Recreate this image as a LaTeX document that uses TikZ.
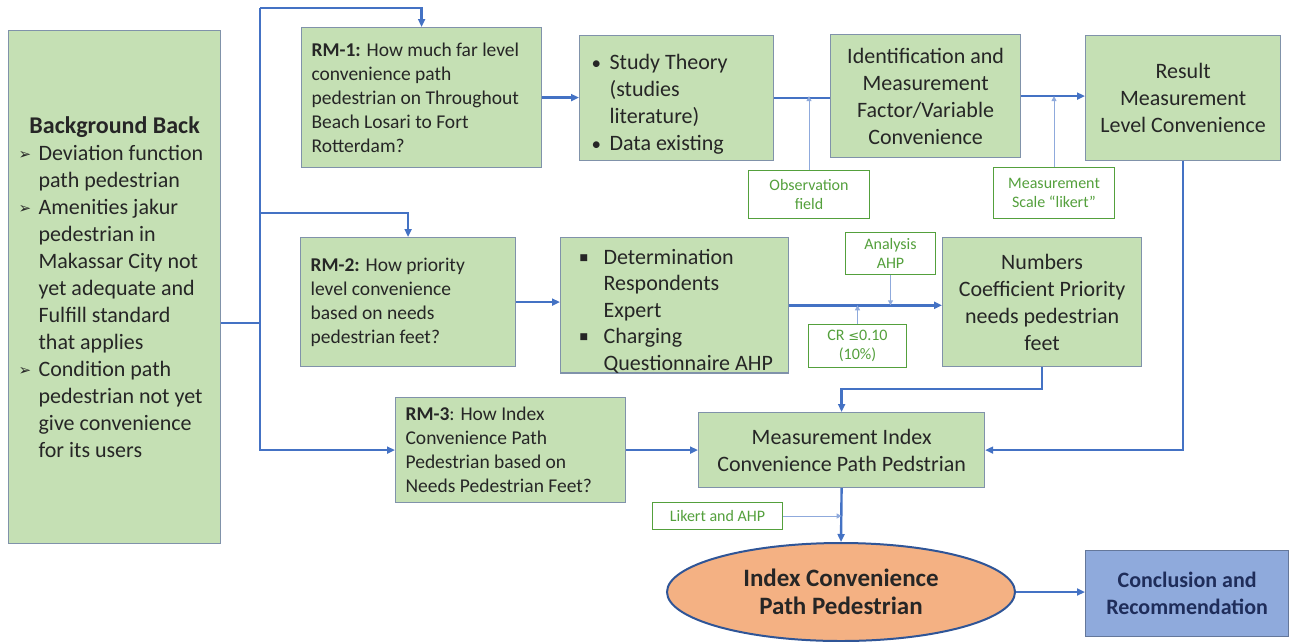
\documentclass[tikz,border=0pt]{standalone}
\usepackage{fontspec}
\setmainfont{Carlito}
\newfontfamily\symfont{DejaVu Sans}
\usetikzlibrary{arrows.meta,shapes.geometric}
\definecolor{boxgreen}{RGB}{197,224,180}
\definecolor{boxline}{RGB}{128,146,170}
\definecolor{flowblue}{RGB}{68,114,196}
\definecolor{lightblue}{RGB}{143,170,220}
\definecolor{notegreen}{RGB}{84,160,60}
\definecolor{ellfill}{RGB}{244,177,131}
\definecolor{ellline}{RGB}{47,85,151}
\definecolor{conclfill}{RGB}{143,170,220}
\definecolor{navy}{RGB}{31,45,90}
\newcommand{\bul}[3]{\par\hangindent=#1\hangafter=1\noindent\makebox[#1][l]{#2}#3\par}
\newcommand{\arrowmark}{\symfont\fontsize{15}{27}\selectfont\raisebox{1pt}{➢}}
\newcommand{\squaremark}{\hspace{9pt}\symfont\fontsize{9}{27}\selectfont\raisebox{4pt}{■}}
\newcommand{\dotmark}{\hspace{1pt}\fontsize{19}{27}\selectfont •}
\begin{document}
\begin{tikzpicture}[x=1pt,y=-1pt,
    box/.style={draw=boxline,line width=1.2pt,fill=boxgreen,text=black!85,anchor=north west,inner ysep=1pt,font=\fontsize{22}{27}\selectfont},
    rmbox/.style={box,align=flush left,inner xsep=10pt,font=\fontsize{19.5}{24}\selectfont},
    note/.style={draw=notegreen,line width=1pt,fill=white,text=notegreen,anchor=north west,align=flush center,inner sep=1pt,font=\fontsize{16}{19.5}\selectfont},
    flow/.style={draw=flowblue,line width=2.4pt,-{Triangle[length=8pt,width=7pt]}},
    feed/.style={draw=lightblue,line width=1pt,-{Triangle[length=5pt,width=5pt]}}]
  \useasboundingbox (0,0) rectangle (1290,641);
  \node[box,align=flush left,inner xsep=10pt,text width=192,minimum width=212,minimum height=513] (bg) at (8,30)
    {{\centering\fontsize{24}{27}\selectfont\bfseries Background Back\par}
     \bul{20pt}{\arrowmark}{Deviation function\newline path pedestrian}
     \bul{20pt}{\arrowmark}{Amenities jakur\newline pedestrian in\newline Makassar City not\newline yet adequate and\newline Fulfill standard\newline that applies}
     \bul{20pt}{\arrowmark}{Condition path\newline pedestrian not yet\newline give convenience\newline for its users}};
  \node[rmbox,text width=220,minimum width=240,minimum height=140] (rm1) at (301,27)
    {\textbf{RM-1:} How much far level\\convenience path\\pedestrian on Throughout\\Beach Losari to Fort\\Rotterdam?};
  \node[box,align=flush left,inner xsep=11pt,text width=172,minimum width=194,minimum height=125] (study) at (579,35)
    {\bul{19pt}{\dotmark}{Study Theory\newline (studies\newline literature)}
     \bul{19pt}{\dotmark}{Data existing}};
  \node[box,align=flush center,text width=180,minimum width=190,minimum height=123] (ident) at (830,34)
    {Identification and\\Measurement\\Factor/Variable\\Convenience};
  \node[box,align=flush center,text width=185,minimum width=195,minimum height=125] (result) at (1085,35)
    {Result\\Measurement\\Level Convenience};
  \node[note,text width=119,minimum height=48] (obs) at (748,170) {Observation\\field};
  \node[note,text width=119,minimum height=51] (scale) at (993,167) {Measurement\\Scale “likert”};
  \node[rmbox,text width=195,minimum width=215,minimum height=129] (rm2) at (300,237)
    {\textbf{RM-2:} How priority\\level convenience\\based on needs\\pedestrian feet?};
  \node[box,align=flush left,inner xsep=10pt,inner ysep=0pt,text width=208,minimum width=228,minimum height=131,
        font=\fontsize{22}{26.5}\selectfont] (det) at (560,237)
    {\bul{33pt}{\squaremark}{Determination\newline Respondents\newline Expert}
     \bul{33pt}{\squaremark}{Charging\newline Questionnaire AHP}};
  \node[box,align=flush center,text width=189,minimum width=199,minimum height=129] (num) at (942,237)
    {Numbers\\Coefficient Priority\\needs pedestrian\\feet};
  \node[note,text width=88,minimum height=42] (ahp) at (845,232) {Analysis\\AHP};
  \node[note,text width=96,minimum height=43] (cr) at (808,324) {CR {\symfont\fontsize{13}{19}\selectfont ≤}0.10\\(10\%)};
  \node[rmbox,text width=210,minimum width=230,minimum height=105] (rm3) at (395,397)
    {\textbf{RM-3}: How Index\\Convenience Path\\Pedestrian based on\\Needs Pedestrian Feet?};
  \node[box,align=flush center,text width=276,minimum width=286,minimum height=75] (mi) at (698,412)
    {Measurement Index\\Convenience Path Pedstrian};
  \node[note,text width=128,minimum height=27,font=\fontsize{16}{19}\selectfont] (likert) at (652,502) {Likert and AHP};
  \node[ellipse,draw=ellline,line width=2pt,fill=ellfill,inner sep=0pt,minimum width=348,minimum height=98,align=flush center,
        text=black!85,font=\fontsize{25}{28}\selectfont\bfseries] (ell) at (841,592) {Index Convenience\\Path Pedestrian};
  \node[draw=lightblue!70!black,line width=1.2pt,fill=conclfill,anchor=north west,minimum width=203,minimum height=86,align=flush center,
        text=navy,font=\fontsize{22}{27}\selectfont\bfseries] (concl) at (1085,550) {Conclusion and\\Recommendation};
  \coordinate (split) at (260,323);
  \coordinate (top) at (260,8);
  \coordinate (mid) at (260,213);
  \draw[flow,-] (bg.east |- split) -- (split);
  \draw[flow,-] (top) -- (split |- rm3.west);
  \draw[flow] (top) -| (rm1.north);
  \draw[flow] (mid) -| (rm2.north);
  \draw[flow] (split) |- (rm3.west);
  \draw[flow] (rm1.east) -- (rm1.east -| study.west);
  \draw[flow,-] (study.east) -- (study.east -| ident.west);
  \draw[flow] (ident.east) -- (ident.east -| result.west);
  \draw[flow] (rm2.east) -- (rm2.east -| det.west);
  \draw[flow] (det.east) -- (det.east -| num.west);
  \draw[flow] (num.south) -- ++(0,22) -| (mi.north);
  \draw[flow] (result.south) |- (mi.east);
  \draw[flow] (rm3.east) -- (rm3.east -| mi.west);
  \draw[flow] (mi.south) -- (ell.north);
  \draw[flow] (ell.east) -- (ell.east -| concl.west);
  \foreach \n in {obs,scale}{
    \draw[feed] (\n.north) -- (\n.north |- ident.east);
  }
  \draw[feed] (ahp.south) -- (ahp.south |- det.east);
  \draw[feed] (cr.north) -- (cr.north |- det.east);
  \draw[feed] (likert.east) -- (likert.east -| mi.south);
\end{tikzpicture}
\end{document}
